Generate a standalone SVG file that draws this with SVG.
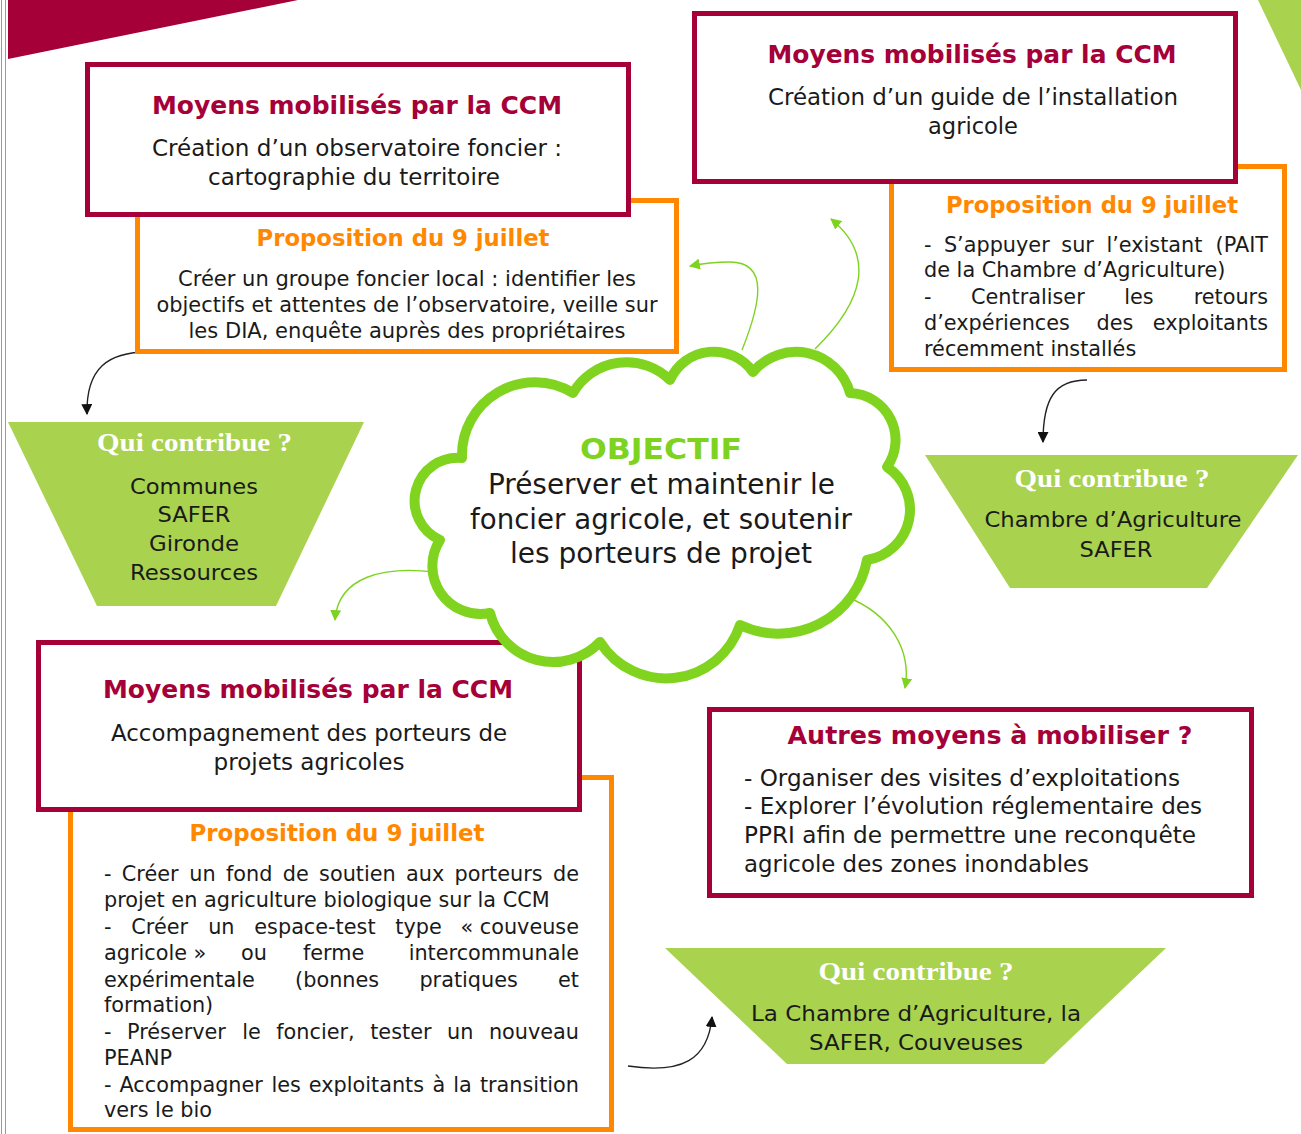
<svg xmlns="http://www.w3.org/2000/svg" width="1301" height="1134" viewBox="0 0 1301 1134">
<defs>
<style>
text{font-family:"DejaVu Sans",Verdana,sans-serif;fill:#1a1a1a;}
.c{text-anchor:middle;}
.ttl{font-weight:bold;fill:#A50038;font-size:25px;}
.prop{font-weight:bold;fill:#FF8800;font-size:23px;}
.mb{font-size:23px;}
.pb{font-size:20.8px;}
.qc{font-family:"Liberation Serif","Times New Roman",serif;font-weight:bold;fill:#ffffff;font-size:26px;}
.qb{font-size:22px;}
.obj{font-weight:bold;fill:#7ED321;font-size:28px;}
.cb{font-size:27.5px;}
.box-m{fill:#ffffff;stroke:#A50038;stroke-width:5;}
.box-o{fill:#ffffff;stroke:#FF8800;stroke-width:5;}
.trap{fill:#A9D24F;}
.ga{fill:none;stroke:#7ED321;stroke-width:1.4;}
.ba{fill:none;stroke:#222;stroke-width:1.4;}
.e{text-anchor:end;}
</style>
<marker id="ahg" viewBox="0 0 10 10" refX="9" refY="5" markerUnits="userSpaceOnUse" markerWidth="11" markerHeight="11" orient="auto"><path d="M0,0 L10,5 L0,10 z" fill="#7ED321"/></marker>
<marker id="ahb" viewBox="0 0 10 10" refX="9" refY="5" markerUnits="userSpaceOnUse" markerWidth="11" markerHeight="11" orient="auto"><path d="M0,0 L10,5 L0,10 z" fill="#111"/></marker>
</defs>
<rect width="1301" height="1134" fill="#ffffff"/>
<line x1="1.5" y1="0" x2="1.5" y2="1134" stroke="#9a9a9a" stroke-width="1"/>
<line x1="5.5" y1="0" x2="5.5" y2="1134" stroke="#9a9a9a" stroke-width="1"/>
<polygon points="8,0 298,0 8,59" fill="#A50038"/>
<polygon points="1258,0 1301,0 1301,90" fill="#A9D24F"/>

<g id="connectors">
<path class="ga" d="M742,350 C760,305 770,262 730,262 C712,262 700,264 690,266" marker-end="url(#ahg)"/>
<path class="ga" d="M815,349 C865,300 875,255 831,219" marker-end="url(#ahg)"/>
<path class="ga" d="M434,572 C385,566 338,576 335,620" marker-end="url(#ahg)"/>
<path class="ga" d="M847,597 C890,614 912,650 905,688" marker-end="url(#ahg)"/>
<path class="ba" d="M148,352 C108,352 86,368 87,414" marker-end="url(#ahb)"/>
<path class="ba" d="M1087,380 C1055,380 1043,398 1043,442" marker-end="url(#ahb)"/>
<path class="ba" d="M628,1066 C682,1074 708,1060 712,1017" marker-end="url(#ahb)"/>
</g>

<g id="qui1">
<polygon class="trap" points="8,422 364,422 276,606 97,606"/>
<text class="qc c" x="194.5" y="451" textLength="195" lengthAdjust="spacingAndGlyphs">Qui contribue ?</text>
<text class="qb c" x="194" y="494" textLength="128" lengthAdjust="spacingAndGlyphs">Communes</text>
<text class="qb c" x="194" y="522" textLength="73" lengthAdjust="spacingAndGlyphs">SAFER</text>
<text class="qb c" x="194" y="551" textLength="90" lengthAdjust="spacingAndGlyphs">Gironde</text>
<text class="qb c" x="194" y="580" textLength="128" lengthAdjust="spacingAndGlyphs">Ressources</text>
</g>

<g id="qui2">
<polygon class="trap" points="925,455 1298,455 1207,588 1010,588"/>
<text class="qc c" x="1112" y="487" textLength="195" lengthAdjust="spacingAndGlyphs">Qui contribue ?</text>
<text class="qb c" x="1113" y="527" textLength="257" lengthAdjust="spacingAndGlyphs">Chambre d’Agriculture</text>
<text class="qb c" x="1116" y="557" textLength="73" lengthAdjust="spacingAndGlyphs">SAFER</text>
</g>

<g id="qui3">
<polygon class="trap" points="665,948 1166,948 1044,1064 787,1064"/>
<text class="qc c" x="916" y="980" textLength="195" lengthAdjust="spacingAndGlyphs">Qui contribue ?</text>
<text class="qb c" x="916" y="1021" textLength="330" lengthAdjust="spacingAndGlyphs">La Chambre d’Agriculture, la</text>
<text class="qb c" x="916" y="1050" textLength="214" lengthAdjust="spacingAndGlyphs">SAFER, Couveuses</text>
</g>

<g id="prop1">
<rect class="box-o" x="137.5" y="200.5" width="539" height="151"/>
<text class="prop c" x="403" y="246" textLength="293" lengthAdjust="spacingAndGlyphs">Proposition du 9 juillet</text>
<text class="pb c" x="407" y="286" textLength="458" lengthAdjust="spacingAndGlyphs">Créer un groupe foncier local : identifier les</text>
<text class="pb c" x="407" y="312" textLength="501" lengthAdjust="spacingAndGlyphs">objectifs et attentes de l’observatoire, veille sur</text>
<text class="pb c" x="407" y="338" textLength="437" lengthAdjust="spacingAndGlyphs">les DIA, enquête auprès des propriétaires</text>
</g>

<g id="moyens1">
<rect class="box-m" x="87.5" y="64.5" width="541" height="150"/>
<text class="ttl c" x="357" y="114" textLength="410" lengthAdjust="spacingAndGlyphs">Moyens mobilisés par la CCM</text>
<text class="mb c" x="357" y="156" textLength="410" lengthAdjust="spacingAndGlyphs">Création d’un observatoire foncier :</text>
<text class="mb c" x="354" y="185" textLength="292" lengthAdjust="spacingAndGlyphs">cartographie du territoire</text>
</g>

<g id="prop2">
<rect class="box-o" x="891.5" y="166.5" width="393" height="203"/>
<text class="prop c" x="1092" y="213" textLength="292" lengthAdjust="spacingAndGlyphs">Proposition du 9 juillet</text>
<text class="pb" y="252"><tspan x="924">-</tspan><tspan x="943.9">S’appuyer</tspan><tspan x="1061.3">sur</tspan><tspan x="1106.4">l’existant</tspan><tspan x="1268" class="e">(PAIT</tspan></text>
<text class="pb" x="924" y="277">de la Chambre d’Agriculture)</text>
<text class="pb" y="304"><tspan x="924">-</tspan><tspan x="971">Centraliser</tspan><tspan x="1124.2">les</tspan><tspan x="1268" class="e">retours</tspan></text>
<text class="pb" y="330"><tspan x="924">d’expériences</tspan><tspan x="1096.6">des</tspan><tspan x="1268" class="e">exploitants</tspan></text>
<text class="pb" x="924" y="356">récemment installés</text>
</g>

<g id="moyens2">
<rect class="box-m" x="694.5" y="13.5" width="541" height="168"/>
<text class="ttl c" x="972" y="63" textLength="409" lengthAdjust="spacingAndGlyphs">Moyens mobilisés par la CCM</text>
<text class="mb c" x="973" y="105" textLength="410" lengthAdjust="spacingAndGlyphs">Création d’un guide de l’installation</text>
<text class="mb c" x="973" y="134" textLength="90" lengthAdjust="spacingAndGlyphs">agricole</text>
</g>

<g id="prop3">
<rect class="box-o" x="70.5" y="777.5" width="541" height="352"/>
<text class="prop c" x="337" y="841" textLength="295" lengthAdjust="spacingAndGlyphs">Proposition du 9 juillet</text>
<text class="pb" y="881"><tspan x="104">-</tspan><tspan x="121.8">Créer</tspan><tspan x="189.3">un</tspan><tspan x="226">fond</tspan><tspan x="282.8">de</tspan><tspan x="319.1">soutien</tspan><tspan x="406.1">aux</tspan><tspan x="454.6">porteurs</tspan><tspan x="579" class="e">de</tspan></text>
<text class="pb" x="104" y="907">projet en agriculture biologique sur la CCM</text>
<text class="pb" y="934"><tspan x="104">-</tspan><tspan x="131.3">Créer</tspan><tspan x="208.2">un</tspan><tspan x="254.3">espace-test</tspan><tspan x="395.3">type</tspan><tspan x="579" class="e">« couveuse</tspan></text>
<text class="pb" y="960"><tspan x="104">agricole »</tspan><tspan x="241">ou</tspan><tspan x="303">ferme</tspan><tspan x="579" class="e">intercommunale</tspan></text>
<text class="pb" y="987"><tspan x="104">expérimentale</tspan><tspan x="295.1">(bonnes</tspan><tspan x="419.4">pratiques</tspan><tspan x="579" class="e">et</tspan></text>
<text class="pb" x="104" y="1012">formation)</text>
<text class="pb" y="1039"><tspan x="104">-</tspan><tspan x="127">Préserver</tspan><tspan x="242.2">le</tspan><tspan x="276.3">foncier,</tspan><tspan x="370.2">tester</tspan><tspan x="447">un</tspan><tspan x="579" class="e">nouveau</tspan></text>
<text class="pb" x="104" y="1065">PEANP</text>
<text class="pb" y="1092"><tspan x="104">-</tspan><tspan x="119.5">Accompagner</tspan><tspan x="271.4">les</tspan><tspan x="308.8">exploitants</tspan><tspan x="432.5">à</tspan><tspan x="453.3">la</tspan><tspan x="579" class="e">transition</tspan></text>
<text class="pb" x="104" y="1117">vers le bio</text>
</g>

<g id="moyens3">
<rect class="box-m" x="38.5" y="642.5" width="541" height="167"/>
<text class="ttl c" x="308" y="698" textLength="410" lengthAdjust="spacingAndGlyphs">Moyens mobilisés par la CCM</text>
<text class="mb c" x="309" y="741" textLength="396" lengthAdjust="spacingAndGlyphs">Accompagnement des porteurs de</text>
<text class="mb c" x="309" y="770" textLength="191" lengthAdjust="spacingAndGlyphs">projets agricoles</text>
</g>

<g id="autres">
<rect class="box-m" x="709.5" y="709.5" width="542" height="186"/>
<text class="ttl c" x="990" y="744" textLength="405" lengthAdjust="spacingAndGlyphs">Autres moyens à mobiliser ?</text>
<text class="mb" x="744" y="786" textLength="436" lengthAdjust="spacingAndGlyphs">- Organiser des visites d’exploitations</text>
<text class="mb" x="744" y="814" textLength="458" lengthAdjust="spacingAndGlyphs">- Explorer l’évolution réglementaire des</text>
<text class="mb" x="744" y="843" textLength="452" lengthAdjust="spacingAndGlyphs">PPRI afin de permettre une reconquête</text>
<text class="mb" x="744" y="872" textLength="345" lengthAdjust="spacingAndGlyphs">agricole des zones inondables</text>
</g>

<g id="objectif">
<path d="M573,393 A62,62 0 0 1 670,380 A48,48 0 0 1 753,372 A56,56 0 0 1 850,393 A47,47 0 0 1 887,467 A51,51 0 0 1 867,560 A90,90 0 0 1 740,625 A78,78 0 0 1 600,642 A65,65 0 0 1 490,613 A48,48 0 0 1 440,540 A43,43 0 0 1 462,458 A73,73 0 0 1 573,393 Z" fill="#ffffff" stroke="#80D41F" stroke-width="10" stroke-linejoin="round"/>
<text class="obj c" x="661" y="459" textLength="162" lengthAdjust="spacingAndGlyphs">OBJECTIF</text>
<text class="cb c" x="661.5" y="494" textLength="347" lengthAdjust="spacingAndGlyphs">Préserver et maintenir le</text>
<text class="cb c" x="661" y="529" textLength="382" lengthAdjust="spacingAndGlyphs">foncier agricole, et soutenir</text>
<text class="cb c" x="661" y="563" textLength="302" lengthAdjust="spacingAndGlyphs">les porteurs de projet</text>
</g>
</svg>
